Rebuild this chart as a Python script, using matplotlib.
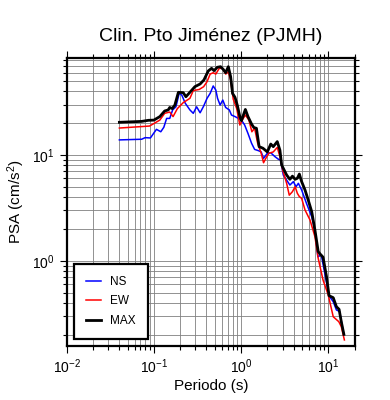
import matplotlib
matplotlib.use("Agg")
import matplotlib.pyplot as plt
from matplotlib.ticker import LogLocator, NullFormatter

plt.rcParams['font.family'] = ['Liberation Sans', 'DejaVu Sans']
plt.rcParams['mathtext.fontset'] = 'custom'
plt.rcParams['mathtext.rm'] = 'Liberation Sans'
plt.rcParams['mathtext.it'] = 'Liberation Sans'

title = "Clin. Pto Jiménez (PJMH)"
xlabel = "Periodo (s)"
ylabel = "PSA (cm/s$^2$)"

max_T = [0.0402, 0.0724, 0.0865, 0.100, 0.117, 0.133, 0.146, 0.152, 0.162, 0.174,
         0.191, 0.217, 0.233, 0.263, 0.295, 0.339, 0.375, 0.420, 0.459, 0.490,
         0.533, 0.582, 0.624, 0.665, 0.714, 0.759, 0.798, 0.851, 0.904, 0.968,
         1.01, 1.08, 1.12, 1.20, 1.32, 1.40, 1.50, 1.61, 1.78, 2.00,
         2.19, 2.34, 2.60, 2.79, 2.92, 3.33, 3.63, 3.88, 4.17, 4.42,
         4.66, 4.95, 5.41, 5.89, 6.46, 7.03, 7.67, 8.04, 8.71, 9.55,
         10.2, 11.4, 12.4, 13.3, 14.1, 15.1]
max_psa = [20.4, 20.8, 21.3, 21.4, 23.1, 26.1, 26.7, 28.2, 27.5, 29.7,
           39.2, 38.9, 35.6, 39.8, 44.3, 47.0, 51.3, 62.4, 66.1, 62.8,
           67.6, 68.5, 64.6, 60.1, 68.5, 55.1, 38.3, 35.2, 29.7, 23.1,
           21.1, 24.8, 27.0, 23.1, 19.6, 18.2, 17.9, 12.0, 11.6, 10.7,
           12.7, 12.0, 13.4, 11.1, 8.04, 6.47, 5.89, 6.31, 5.89, 6.03,
           6.61, 5.60, 4.67, 3.75, 2.91, 1.95, 1.22, 1.16, 1.08, 0.706,
           0.467, 0.447, 0.367, 0.347, 0.265, 0.201]

ew_T = [0.0402, 0.0891, 0.117, 0.133, 0.152, 0.166, 0.186, 0.217, 0.259, 0.283,
        0.331, 0.372, 0.407, 0.442, 0.479, 0.513, 0.562, 0.611, 0.667, 0.714,
        0.759, 0.813, 0.891, 0.968, 1.04, 1.12, 1.23, 1.33, 1.43, 1.55,
        1.70, 1.81, 1.95, 2.09, 2.34, 2.60, 2.79, 3.00, 3.33, 3.57,
        3.88, 4.17, 4.42, 4.66, 4.95, 5.41, 6.17, 7.03, 7.67, 8.71,
        10.0, 11.4, 13.2, 14.1, 15.3]
ew_psa = [18.0, 18.8, 21.4, 24.8, 25.5, 23.1, 27.5, 31.3, 34.4, 40.7,
          41.7, 44.3, 49.4, 58.3, 60.1, 58.3, 66.1, 66.1, 58.3, 61.4,
          51.3, 33.7, 27.5, 19.2, 21.7, 23.9, 21.4, 16.6, 17.9, 12.9,
          10.4, 8.45, 9.51, 10.4, 10.7, 11.8, 9.64, 7.21, 5.40, 4.17,
          4.50, 5.01, 4.34, 4.04, 3.89, 3.02, 2.43, 1.69, 1.05, 0.656,
          0.473, 0.295, 0.265, 0.238, 0.178]

ns_T = [0.0402, 0.0724, 0.0794, 0.0912, 0.107, 0.120, 0.130, 0.140, 0.152, 0.164,
        0.179, 0.195, 0.209, 0.229, 0.259, 0.283, 0.309, 0.339, 0.372, 0.407,
        0.442, 0.479, 0.513, 0.537, 0.575, 0.617, 0.665, 0.733, 0.776, 0.851,
        0.933, 1.01, 1.10, 1.20, 1.32, 1.43, 1.58, 1.70, 1.81, 2.00,
        2.19, 2.45, 2.69, 2.84, 3.05, 3.33, 3.63, 3.98, 4.27, 4.54,
        4.95, 5.62, 6.46, 7.03, 7.59, 8.32, 9.12, 10.2, 11.4, 12.4,
        13.5, 14.5, 15.1]
ns_psa = [13.9, 14.1, 14.6, 14.5, 17.5, 16.6, 18.3, 22.2, 22.2, 26.7,
          28.6, 38.3, 36.9, 30.9, 26.7, 24.8, 28.6, 25.1, 29.0, 34.4,
          38.3, 45.0, 41.2, 34.4, 29.7, 33.1, 28.2, 26.7, 23.9, 23.1,
          22.2, 21.4, 19.2, 16.0, 12.9, 11.3, 11.0, 10.7, 9.29, 10.4,
          10.5, 9.64, 9.10, 8.97, 6.46, 5.79, 5.20, 5.60, 5.01, 5.40,
          4.67, 3.49, 2.61, 1.95, 1.09, 1.13, 0.759, 0.467, 0.409, 0.342,
          0.331, 0.238, 0.200]

fig = plt.figure(figsize=(3.9, 4.0), dpi=100)
ax = fig.add_axes([0.171, 0.135, 0.739, 0.721])
ax.set_xscale('log')
ax.set_yscale('log')
ax.set_xlim(0.01, 20.2)
ax.set_ylim(0.156, 83.5)

ax.grid(True, which='both', color='#808080', linewidth=0.6)
ax.set_axisbelow(True)

ax.plot(ns_T, ns_psa, color='#0000ff', lw=1.1, label='NS')
ax.plot(ew_T, ew_psa, color='#ff0000', lw=1.1, label='EW')
ax.plot(max_T, max_psa, color='black', lw=2.0, label='MAX')

ax.xaxis.set_major_locator(LogLocator(base=10, numticks=10))
ax.xaxis.set_minor_locator(LogLocator(base=10, subs=range(2, 10), numticks=20))
ax.xaxis.set_minor_formatter(NullFormatter())
ax.yaxis.set_minor_formatter(NullFormatter())
ax.tick_params(which='both', direction='out', top=True, right=True, labelsize=10, width=0.8)
ax.tick_params(which='major', length=5)
ax.tick_params(which='minor', length=3)
for s in ax.spines.values():
    s.set_linewidth(1.6)

ax.set_title(title, fontsize=14, pad=12)
ax.set_xlabel(xlabel, fontsize=11, labelpad=2)
ax.set_ylabel(ylabel, fontsize=11, labelpad=4)

leg = ax.legend(loc='lower left', fontsize=8.5, fancybox=False, framealpha=1,
                edgecolor='black', handlelength=1.3, handletextpad=0.8,
                borderpad=1.0, borderaxespad=0.6,
                labelspacing=0.65, bbox_to_anchor=(0.0, 0.0))
leg.get_frame().set_linewidth(1.6)

fig.savefig('out.png', dpi=100)
